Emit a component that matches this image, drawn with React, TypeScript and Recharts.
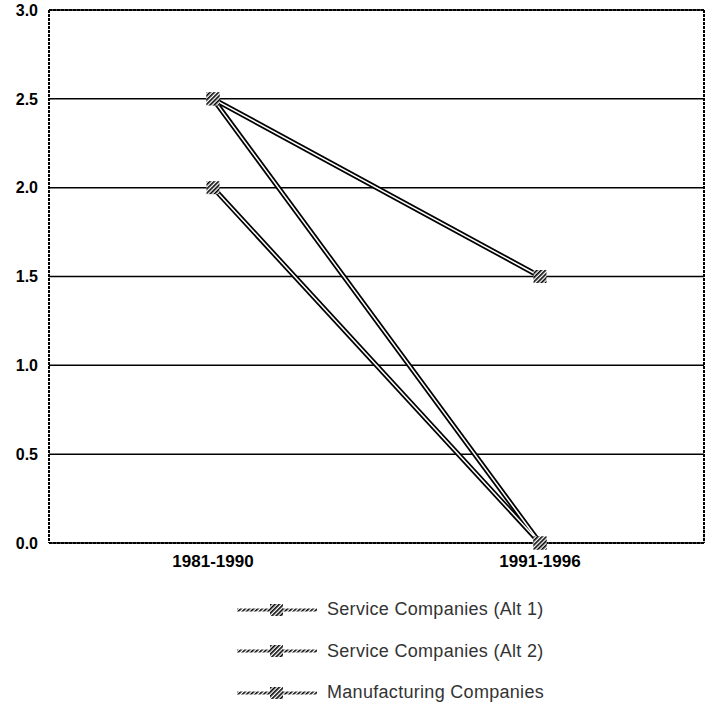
import React from "react";
import { LineChart, Line, XAxis, YAxis, CartesianGrid, Legend } from "recharts";

const categories = ["1981-1990", "1991-1996"];
const serviceAlt1 = [2.5, 1.5];
const serviceAlt2 = [2.5, 0];
const manufacturing = [2.0, 0];
const yTicks = [0, 0.5, 1.0, 1.5, 2.0, 2.5, 3.0];
const categoryBoundaries = [1];

const series = [
  { key: "alt1", name: "Service Companies (Alt 1)", values: serviceAlt1 },
  { key: "alt2", name: "Service Companies (Alt 2)", values: serviceAlt2 },
  { key: "mfg", name: "Manufacturing Companies", values: manufacturing },
];

const data = categories.map((c, i) => {
  const row: any = { category: c };
  series.forEach((s) => (row[s.key] = s.values[i]));
  return row;
});

const border = { stroke: "#000", strokeWidth: 2, strokeDasharray: "3 1" };
const pad = { left: 164, right: 164 };

const HatchDot = (props: any) => {
  const { cx, cy, index, dataKey } = props;
  if (cx == null || cy == null) return null;
  const s = 13;
  return (
    <g key={`${dataKey}-${index}`}>
      <defs>
        <pattern id="hatchP" width="3" height="3" patternUnits="userSpaceOnUse" patternTransform="rotate(45)">
          <rect width="3" height="3" fill="#fff" />
          <rect width="1.6" height="3" fill="#000" />
        </pattern>
      </defs>
      <rect x={cx - s / 2} y={cy - s / 2} width={s} height={s} fill="url(#hatchP)" />
    </g>
  );
};

const EmptyTick = () => <g />;

const LegendContent = () => (
  <div style={{ height: 136, paddingTop: 17, boxSizing: "border-box", paddingLeft: 237, fontFamily: "'Liberation Sans', Arial, sans-serif" }}>
    {series.map((s) => (
      <div key={s.key} style={{ height: 41.5, display: "flex", alignItems: "center" }}>
        <svg width={80} height={14} style={{ marginRight: 10 }}>
          <defs>
            <pattern id="hatchL" width="3" height="3" patternUnits="userSpaceOnUse" patternTransform="rotate(45)">
              <rect width="3" height="3" fill="#fff" />
              <rect width="1.6" height="3" fill="#000" />
            </pattern>
          </defs>
          <rect x={0} y={5.5} width={80} height={3} fill="url(#hatchL)" />
          <rect x={33} y={1} width={13} height={12} fill="url(#hatchL)" />
        </svg>
        <span style={{ fontSize: 18, color: "#333", letterSpacing: 0.3 }}>{s.name}</span>
      </div>
    ))}
  </div>
);

export default function App() {
  return (
    <div style={{ position: "absolute", left: 0, top: 0, background: "#fff" }}>
      <LineChart width={707} height={708} data={data} margin={{ top: 9, right: 2, left: 0, bottom: 0 }}>
        <CartesianGrid vertical={false} stroke="#000" strokeWidth={1.5} strokeDasharray="" />
        <XAxis
          xAxisId="mid"
          type="number"
          domain={[0, 2]}
          ticks={categoryBoundaries}
          height={1}
          mirror
          tick={<EmptyTick />}
          tickSize={14}
          tickLine={{ stroke: "#999", strokeWidth: 1 }}
          axisLine={false}
        />
        <XAxis
          dataKey="category"
          height={29}
          padding={pad}
          tickLine={false}
          axisLine={border}
          tickSize={0}
          tickMargin={12}
          interval={0}
          tick={{ fill: "#000", fontSize: 17, fontWeight: "bold", fontFamily: "'Liberation Sans', Arial, sans-serif" }}
        />
        <XAxis xAxisId="top" orientation="top" dataKey="category" padding={pad} height={1} tick={false} tickLine={false} axisLine={border} />
        <YAxis
          width={49}
          domain={[0, 3]}
          ticks={yTicks}
          tickFormatter={(v: number) => v.toFixed(1)}
          tickLine={false}
          axisLine={border}
          tickSize={0}
          tickMargin={11}
          interval={0}
          tick={{ fill: "#000", fontSize: 16, fontWeight: "bold", fontFamily: "'Liberation Sans', Arial, sans-serif" }}
        />
        <YAxis yAxisId="right" orientation="right" width={1} domain={[0, 3]} ticks={yTicks} tick={false} tickLine={false} axisLine={border} />
        {series.map((s) => (
          <Line
            key={s.key}
            dataKey={s.key}
            name={s.name}
            stroke="#000"
            strokeWidth={5}
            dot={false}
            activeDot={false}
            isAnimationActive={false}
          />
        ))}
        {series.map((s) => (
          <Line
            key={s.key + "-inner"}
            xAxisId="top"
            yAxisId="right"
            dataKey={s.key}
            legendType="none"
            stroke="#fff"
            strokeWidth={1.5}
            dot={<HatchDot />}
            activeDot={false}
            isAnimationActive={false}
          />
        ))}
        <Legend verticalAlign="bottom" align="left" content={<LegendContent />} height={136} />
      </LineChart>
    </div>
  );
}
